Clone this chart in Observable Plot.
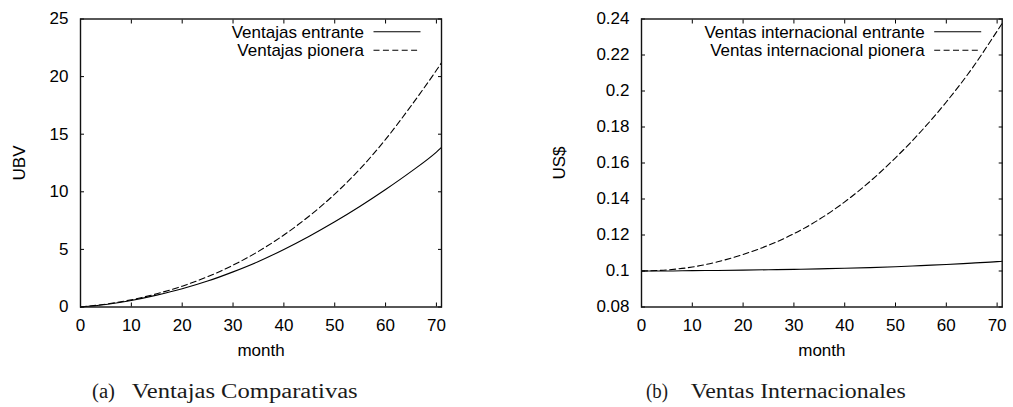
<!DOCTYPE html>
<html>
<head>
<meta charset="utf-8">
<script src="https://cdn.jsdelivr.net/npm/d3@7"></script>
<script src="https://cdn.jsdelivr.net/npm/@observablehq/plot@0.6"></script>
<style>
  html, body { margin: 0; padding: 0; background: #fff; }
  #fig { position: relative; width: 1013px; height: 407px; overflow: hidden; }
  .panel { position: absolute; top: 0; }
  #captions { position: absolute; left: 0; top: 370px; }
</style>
</head>
<body>
<div id="fig"></div>
<script>
// Month grid shared by every series
const months = [0, 5, 10, 15, 20, 25, 30, 35, 40, 45, 50, 55, 60, 65, 70, 71];

// (a) Ventajas Comparativas, in UBV
const ventajasEntrante = [0, 0.22, 0.57, 1.03, 1.58, 2.25, 3.05, 3.95, 5.0, 6.15, 7.4, 8.75, 10.2, 11.75, 13.45, 13.85];
const ventajasPionera  = [0, 0.25, 0.63, 1.15, 1.81, 2.63, 3.63, 4.83, 6.25, 7.9, 9.8, 12.0, 14.55, 17.45, 20.55, 21.2];

// (b) Ventas Internacionales, in US$
const ventasEntrante = [0.1, 0.1, 0.1002, 0.1003, 0.1005, 0.1007, 0.1009, 0.1012, 0.1015, 0.1019, 0.1024, 0.1030, 0.1036, 0.1044, 0.1052, 0.1054];
const ventasPionera  = [0.1, 0.1006, 0.1022, 0.1051, 0.1092, 0.1143, 0.1207, 0.1287, 0.1384, 0.1498, 0.1629, 0.1775, 0.1939, 0.2123, 0.2333, 0.2376];

// Tick values
const monthTicks = [0, 10, 20, 30, 40, 50, 60, 70];
const ubvTicks = [0, 5, 10, 15, 20, 25];
const usdTicks = [0.08, 0.1, 0.12, 0.14, 0.16, 0.18, 0.2, 0.22, 0.24];

// Legend names and captions
const ventajasNames = ["Ventajas entrante", "Ventajas pionera"];
const ventasNames = ["Ventas internacional entrante", "Ventas internacional pionera"];
const captions = [
  {tag: "(a)", title: "Ventajas Comparativas"},
  {tag: "(b)", title: "Ventas Internacionales"}
];

const SANS = "'Liberation Sans', Arial, Helvetica, sans-serif";
const SERIF = "'Liberation Serif', 'DejaVu Serif', serif";
const HEIGHT = 370, M_TOP = 18.5, M_BOTTOM = 63.5;
const DASH = "6,3.4";

function panel({left, width, marginLeft, marginRight, yDomain, yTicks, yLabel, yLabelDx, series}) {
  const tables = series.map(s => months.map((m, i) => ({month: m, value: s.values[i]})));
  const svg = Plot.plot({
    width, height: HEIGHT,
    marginLeft, marginRight, marginTop: M_TOP, marginBottom: M_BOTTOM,
    style: {fontFamily: SANS, fontSize: "17px", color: "#000", background: "transparent", overflow: "visible"},
    x: {domain: [0, 71]},
    y: {domain: yDomain},
    marks: [
      ...series.map((s, k) => Plot.line(tables[k], {
        x: "month", y: "value", curve: "monotone-x",
        stroke: "#000", strokeWidth: 1.1,
        strokeDasharray: s.dash || null
      })),
      // inward ticks on all four sides, labels on bottom and left
      Plot.axisX(monthTicks, {anchor: "bottom", tickSize: -4, tickPadding: 16, label: null, tickFormat: d => String(d)}),
      Plot.axisX(monthTicks, {anchor: "top", tickSize: -4, fill: "none", label: null}),
      Plot.axisY(yTicks, {anchor: "left", tickSize: -4, tickPadding: 16, label: null, tickFormat: d => String(+d.toFixed(2))}),
      Plot.axisY(yTicks, {anchor: "right", tickSize: -4, fill: "none", label: null}),
      Plot.frame({stroke: "#111", strokeWidth: 1.4}),
      Plot.text([yLabel], {text: d => d, frameAnchor: "left", dx: yLabelDx, rotate: -90, textAnchor: "middle", lineAnchor: "middle"}),
      Plot.text(["month"], {text: d => d, frameAnchor: "bottom", dy: 43.5, textAnchor: "middle", lineAnchor: "middle"})
    ]
  });

  // key in the top-right corner of the frame
  const right = width - marginRight;
  const key = d3.select(svg).append("g")
    .attr("font-family", SANS).attr("font-size", 17).attr("fill", "#000");
  series.forEach((s, i) => {
    const y = M_TOP + 13.2 + i * 18.6;
    key.append("text").attr("x", right - 77).attr("y", y).attr("dy", "0.36em")
      .attr("text-anchor", "end").text(s.name);
    key.append("line").attr("x1", right - 67.5).attr("x2", right - 20.5)
      .attr("y1", y).attr("y2", y)
      .attr("stroke", "#000").attr("stroke-width", 1.1)
      .attr("stroke-dasharray", s.dash || null);
  });

  const wrap = document.createElement("div");
  wrap.className = "panel";
  wrap.style.left = left + "px";
  wrap.appendChild(svg);
  return wrap;
}

const fig = document.getElementById("fig");

fig.appendChild(panel({
  left: 0, width: 460, marginLeft: 80, marginRight: 19,
  yDomain: [0, 25], yTicks: ubvTicks, yLabel: "UBV", yLabelDx: -61,
  series: [
    {name: ventajasNames[0], values: ventajasEntrante},
    {name: ventajasNames[1], values: ventajasPionera, dash: DASH}
  ]
}));

fig.appendChild(panel({
  left: 540, width: 473, marginLeft: 101, marginRight: 11.3,
  yDomain: [0.08, 0.24], yTicks: usdTicks, yLabel: "US$", yLabelDx: -82,
  series: [
    {name: ventasNames[0], values: ventasEntrante},
    {name: ventasNames[1], values: ventasPionera, dash: DASH}
  ]
}));

// sub-figure captions, set in a wide roman face
const cap = d3.select(fig).append("svg").attr("id", "captions")
  .attr("width", 1013).attr("height", 37)
  .attr("font-family", SERIF).attr("font-size", 20).attr("fill", "#1a1a1a");
const capLayout = [
  {tagX: 92, tagW: 23, titleX: 131.7, titleW: 226},
  {tagX: 646, tagW: 22, titleX: 690.7, titleW: 215}
];
captions.forEach((c, i) => {
  const L = capLayout[i];
  cap.append("text").attr("x", L.tagX).attr("y", 28)
    .attr("textLength", L.tagW).attr("lengthAdjust", "spacingAndGlyphs").text(c.tag);
  cap.append("text").attr("x", L.titleX).attr("y", 28)
    .attr("textLength", L.titleW).attr("lengthAdjust", "spacingAndGlyphs").text(c.title);
});
</script>
</body>
</html>
